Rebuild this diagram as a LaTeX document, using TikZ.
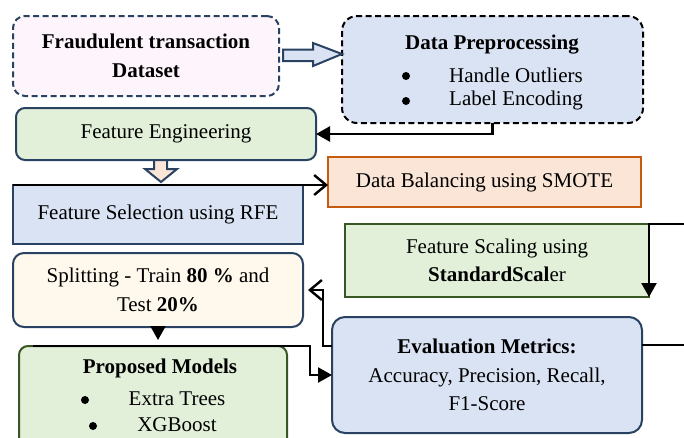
\documentclass[tikz,border=0pt]{standalone}
\usepackage{fontspec}
\setmainfont{Liberation Serif}
\usetikzlibrary{arrows.meta,calc}

\definecolor{navy}{HTML}{2A4262}
\definecolor{bluefill}{HTML}{DAE3F3}
\definecolor{greenfill}{HTML}{E2F0D9}
\definecolor{peachfill}{HTML}{FBE5D6}
\definecolor{orangeline}{HTML}{C55A11}
\definecolor{greenline}{HTML}{385723}
\definecolor{pinkfill}{HTML}{FDF5FB}
\definecolor{creamfill}{HTML}{FFF9ED}

\tikzset{
  box/.style={draw, line width=2pt, align=center, inner sep=0pt, outer sep=0pt,
    font=\fontsize{21}{28.5}\selectfont},
  dashbox/.style={box, dash pattern=on 6pt off 3.5pt},
  txt/.style={inner sep=0pt, font=\fontsize{21}{28.5}\selectfont},
  dot/.style={circle, fill=black, inner sep=0pt, minimum size=8pt},
  conn/.style={draw=black, line width=2.4pt, -{Triangle[length=14pt,width=15pt]}},
  openconn/.style={draw=black, line width=2.4pt, -{Straight Barb[length=12pt,width=20pt,line width=2.4pt]}},
  blockarrow/.style={draw=navy, line width=2pt, line join=miter},
}

\begin{document}
\begin{tikzpicture}[x=1pt,y=-1pt]
\useasboundingbox (0,0) rectangle (684,437);
\clip (0,0) rectangle (684,437);

% process boxes
\node[dashbox, rounded corners=12pt, draw=navy, fill=pinkfill,
      minimum width=266pt, minimum height=80pt, font=\fontsize{21}{28.5}\selectfont\bfseries]
  (fraud) at (146,56) {Fraudulent transaction\\Dataset};
\node[dashbox, rounded corners=15pt, draw=black, fill=bluefill,
      minimum width=301pt, minimum height=107pt] (prep) at (492.5,69.5) {};
\node[box, rounded corners=9pt, draw=navy, fill=greenfill,
      minimum width=300pt, minimum height=52pt] (fe) at (166,134) {Feature Engineering};
\node[box, draw=orangeline, fill=peachfill,
      minimum width=313pt, minimum height=50pt] (db) at (484.5,182) {Data Balancing using SMOTE};
\node[box, draw=navy, fill=bluefill,
      minimum width=290pt, minimum height=59pt] (fs) at (158,214.5) {Feature Selection using RFE};
\node[box, draw=greenline, fill=greenfill,
      minimum width=304pt, minimum height=73pt] (fsc) at (497,260.5)
  {Feature Scaling using\\\textbf{StandardScal}er};
\node[box, rounded corners=11pt, draw=navy, fill=creamfill,
      minimum width=290pt, minimum height=74pt] (split) at (158,290)
  {Splitting - Train \textbf{80 \%} and\\Test \textbf{20\%}};
\node[box, rounded corners=9pt, draw=greenline, fill=greenfill,
      minimum width=268pt, minimum height=124pt] (pm) at (153,408) {};
\node[box, rounded corners=13pt, draw=navy, fill=bluefill,
      minimum width=310pt, minimum height=116pt] (eval) at (487,375)
  {\textbf{Evaluation Metrics:}\\Accuracy, Precision, Recall,\\F1-Score};

% contents of the list boxes
\node[txt, font=\fontsize{21}{28.5}\selectfont\bfseries] (preptitle) at (492,45) {Data Preprocessing};
\node[dot] (pb1) at (406,76) {};
\node[txt, anchor=west] (pi1) at (449,75) {Handle Outliers};
\begin{scope}
  \clip (340,85) rectangle (650,109);
  \node[dot] (pb2) at (406,101) {};
  \node[txt, anchor=west] (pi2) at (449,100) {Label Encoding};
\end{scope}

\node[txt, font=\fontsize{21}{28.5}\selectfont\bfseries] (pmtitle) at (160,368) {Proposed Models};
\node[dot] (mb1) at (85,400) {};
\node[txt] (mi1) at (177,399) {Extra Trees};
\node[dot] (mb2) at (93,426) {};
\node[txt] (mi2) at (177,425) {XGBoost};

% block arrows
\draw[blockarrow, fill=bluefill, shift={(fraud.east)}]
  (4,-6.5) -- (34,-6.5) -- (34,-13) -- (63,-2) -- (34,10) -- (34,5) -- (4,5) -- cycle;
\draw[blockarrow, fill=peachfill, shift={(fe.south)}]
  (-12,0) -- (-12,9) -- (-21,9) -- (-5,22) -- (11,9) -- (1,9) -- (1,0) -- cycle;

% connectors
\coordinate (rightA) at (690,224);
\coordinate (rightB) at (690,345);
\coordinate (pmstart) at ($(pm.north west)+(14,0)$);
\coordinate (pmturn) at ($(pm.north east)+(23,0)$);
\coordinate (evalout) at ($(eval.north west)+(0,29)$);
\coordinate (evalright) at ($(eval.north east)+(0,28)$);

\draw[conn] (prep.south) |- (fe.east);
\draw[openconn] (fs.north west) -- (fs.north west -| db.west);
\draw[conn] (rightA) -- (fsc.north east) -- (fsc.south east);
\draw[conn] (split.south) -- ([yshift=6pt]split.south |- pm.north);
\draw[conn] (pmstart) -- (pmturn) |- (eval.west);
\draw[openconn] (evalout) -- ++(-9,0) |- ([xshift=5pt]split.east);
\draw[line width=2.4pt] (evalright) -- (rightB);
\end{tikzpicture}
\end{document}
